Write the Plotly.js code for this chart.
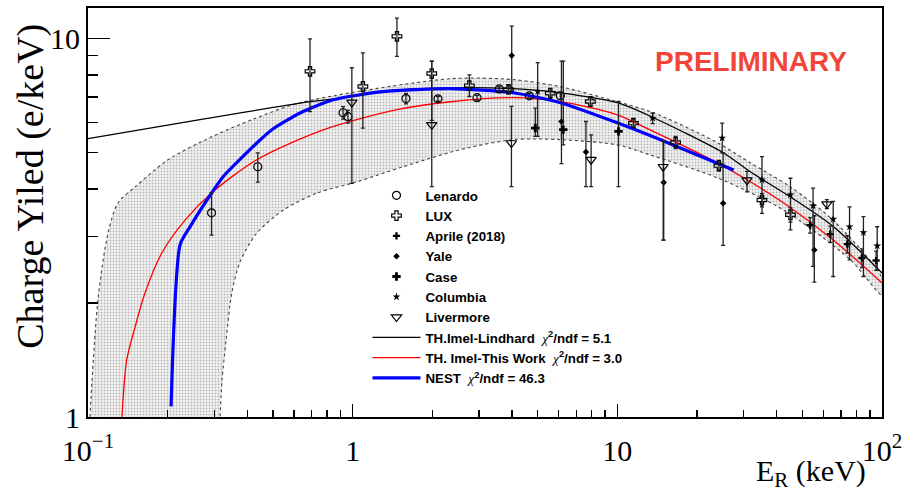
<!DOCTYPE html>
<html>
<head>
<meta charset="utf-8">
<script src="https://cdn.plot.ly/plotly-3.0.1.min.js"></script>
<style>html,body{margin:0;padding:0;background:#fff;}#plot{width:905px;height:491px;}</style>
</head>
<body>
<div id="plot"></div>
<script>
// ---- Data points (E_R in keV, charge yield in e/keV; hi/lo = error bar ends) ----
const lenardoX  = [0.293, 0.438, 0.92, 0.96, 1.59, 2.10, 2.95, 3.58, 4.65, 6.09];
const lenardoY  = [3.46, 4.58, 6.36, 6.21, 6.93, 6.92, 6.97, 7.35, 7.05, 7.05];
const lenardoHi = [3.91, 4.98, 6.60, 6.45, 7.15, 7.02, 7.07, 7.45, 7.15, 7.20];
const lenardoLo = [3.02, 4.17, 6.12, 5.97, 6.71, 6.82, 6.87, 7.25, 6.95, 6.90];

const luxX  = [0.69, 1.093, 1.47, 1.99, 2.76, 3.88, 5.58, 7.91, 11.5, 16.6, 24.2, 35.2, 45.1];
const luxY  = [8.18, 7.46, 10.12, 8.07, 7.50, 7.33, 7.16, 6.81, 5.97, 5.31, 4.61, 3.74, 3.42];
const luxHi = [9.97, 9.15, 11.3, 8.70, 8.01, 7.50, 7.36, 7.01, 6.12, 5.51, 4.76, 3.89, 3.57];
const luxLo = [6.40, 5.79, 8.96, 6.07, 7.02, 7.16, 6.96, 6.61, 5.82, 5.11, 4.46, 3.59, 3.27];

const aprileX  = [53.5, 63.8, 74.0, 84.0, 95.0];
const aprileY  = [3.21, 3.04, 2.86, 2.63, 2.59];
const aprileHi = [3.36, 3.19, 3.01, 2.78, 2.74];
const aprileLo = [3.06, 2.89, 2.71, 2.48, 2.44];

const yaleX  = [3.99, 6.15, 7.61, 14.97, 25.1, 55.5];
const yaleY  = [9.00, 6.03, 5.01, 4.16, 3.67, 2.76];
const yaleHi = [10.77, 8.70, 6.03, 5.36, 4.98, 3.40];
const yaleLo = [7.30, 4.67, 4.06, 2.93, 2.84, 2.27];

const caseX  = [4.90, 6.25, 10.1];
const caseY  = [5.79, 5.74, 5.68];
const caseHi = [6.54, 8.70, 6.81];
const caseLo = [5.51, 5.23, 4.06];

const columbiaX  = [5.0, 13.6, 24.9, 35.2, 45.1, 54.9, 65.4, 75.4, 85.1, 95.9];
const columbiaY  = [7.24, 6.16, 5.45, 4.23, 3.86, 3.61, 3.33, 3.18, 3.07, 2.83];
const columbiaHi = [8.63, 6.35, 5.97, 4.87, 4.27, 4.02, 3.71, 3.59, 3.38, 3.18];
const columbiaLo = [5.51, 5.95, 4.98, 3.45, 3.12, 2.50, 2.35, 2.60, 2.35, 2.44];

const livermoreX  = [0.993, 1.99, 3.98, 7.96, 14.9, 30.9, 61.9];
const livermoreY  = [6.77, 5.91, 5.29, 4.78, 4.58, 4.22, 3.65];
const livermoreHi = [8.36, 8.70, 6.61, 5.56, 5.36, 4.45, 3.75];
const livermoreLo = [4.14, 4.06, 4.06, 4.06, 2.93, 3.93, 3.55];

// ---- Model curves ----
const lindhardX = [0.1, 0.265, 0.69, 0.978, 1.4, 2.34, 4.04, 6.09, 10, 13.7, 25.2, 31.8, 45.1, 65.6, 100];
const lindhardY = [5.43, 6.10, 6.80, 7.01, 7.28, 7.40, 7.36, 7.18, 6.76, 6.17, 4.98, 4.44, 3.81, 3.18, 2.40];

const thisWorkX = [0.1344, 0.140, 0.1506, 0.1642, 0.190, 0.2326, 0.2936, 0.4345, 0.774, 1.47, 2.34, 4.04, 6.09, 10, 13.3, 23.9, 31.8, 42.4, 65.6, 100];
const thisWorkY = [1.0, 1.413, 1.727, 2.125, 2.71, 3.31, 3.91, 4.78, 5.73, 6.48, 6.80, 6.97, 6.80, 6.28, 5.73, 4.69, 4.18, 3.68, 2.93, 2.26];

const nestX = [0.206, 0.2228, 0.243, 0.2936, 0.324, 0.4345, 0.498, 0.633, 0.844, 1.30, 2.34, 4.04, 6.09, 10, 15.5, 27.5];
const nestY = [1.067, 2.85, 3.18, 3.91, 4.31, 5.29, 5.75, 6.35, 6.88, 7.23, 7.36, 7.18, 6.76, 5.98, 5.30, 4.49];

// ---- Uncertainty band ----
const bandUpX = [0.1017, 0.109, 0.119, 0.1299, 0.1506, 0.2007, 0.2943, 0.417, 0.633, 2.34, 4.04, 6.09, 10, 13.7, 23.9, 31.8, 45.1, 65.6, 100];
const bandUpY = [1.0, 2.035, 3.06, 3.68, 4.05, 4.78, 5.50, 6.10, 6.76, 7.82, 7.78, 7.45, 6.80, 6.36, 5.30, 4.69, 4.05, 3.30, 2.33];
const bandLoX = [0.3155, 0.321, 0.3325, 0.3494, 0.3756, 0.4344, 0.5476, 0.732, 1.037, 1.552, 2.55, 4.04, 6.09, 10, 13.3, 23.9, 42.4, 76.0, 100];
const bandLoY = [1.0, 1.25, 1.595, 2.125, 2.57, 3.06, 3.52, 3.90, 4.18, 4.58, 5.08, 5.40, 5.40, 5.23, 4.92, 4.28, 3.52, 2.60, 2.10];

// ---- Axis ticks ----
const xTickVals = [0.1, 1, 10, 100];
const xTickText = ['10<sup>\u22121</sup>', '1', '10', '10<sup>2</sup>'];
const xMinorVals = [0.2,0.3,0.4,0.5,0.6,0.7,0.8,0.9,2,3,4,5,6,7,8,9,20,30,40,50,60,70,80,90];
const yTickVals = [1, 10];
const yTickText = ['1', '10'];
const yMinorVals = [2,3,4,5,6,7,8,9];

const chi = '<span style="font-family:\'Liberation Serif\';font-weight:normal;font-style:italic">\u03c7</span><sup>2</sup>';

function errs(y, hi, lo) {
  return {type:'data', symmetric:false,
          array: y.map((v,i)=>hi[i]-v), arrayminus: y.map((v,i)=>v-lo[i]),
          color:'#222', thickness:1.3, width:2};
}
function pts(name, x, y, hi, lo, symbol, size, rank, lw) {
  return {x:x, y:y, type:'scatter', mode:'markers', name:name, legendrank:rank,
          marker:{symbol:symbol, size:size, color:'#000', line:{color:'#000', width:lw}},
          error_y: errs(y, hi, lo)};
}

const bandX = bandUpX.concat(bandLoX.slice().reverse());
const bandY = bandUpY.concat(bandLoY.slice().reverse());

const traces = [
  {x:bandX, y:bandY, type:'scatter', mode:'lines', fill:'toself', showlegend:false, hoverinfo:'skip',
   line:{color:'#444', width:1.1, dash:'dot', shape:'spline', smoothing:0.8},
   fillcolor:'#ededed',
   fillpattern:{shape:'.', bgcolor:'#f3f3f3', fgcolor:'#b8b8b8', size:3, solidity:0.3}},
  {x:lindhardX, y:lindhardY, type:'scatter', mode:'lines', legendrank:8,
   name:'TH.Imel-Lindhard  '+chi+'/ndf = 5.1',
   line:{color:'#000', width:1.3, shape:'spline', smoothing:0.8}},
  {x:thisWorkX, y:thisWorkY, type:'scatter', mode:'lines', legendrank:9,
   name:'TH. Imel-This Work  '+chi+'/ndf = 3.0',
   line:{color:'#ff0000', width:1.3, shape:'spline', smoothing:0.8}},
  {x:nestX, y:nestY, type:'scatter', mode:'lines', legendrank:10,
   name:'NEST  '+chi+'/ndf = 46.3',
   line:{color:'#0000ff', width:3.2, shape:'spline', smoothing:0.6}},
  pts('Lenardo', lenardoX, lenardoY, lenardoHi, lenardoLo, 'circle-open', 8, 1, 1.2),
  pts('LUX', luxX, luxY, luxHi, luxLo, 'cross-open', 8, 2, 1.2),
  pts('Aprile (2018)', aprileX, aprileY, aprileHi, aprileLo, 'cross', 6, 3, 0),
  pts('Yale', yaleX, yaleY, yaleHi, yaleLo, 'diamond', 5, 4, 0),
  pts('Case', caseX, caseY, caseHi, caseLo, 'cross', 7, 5, 0),
  pts('Columbia', columbiaX, columbiaY, columbiaHi, columbiaLo, 'star', 6, 6, 0),
  pts('Livermore', livermoreX, livermoreY, livermoreHi, livermoreLo, 'triangle-down-open', 9, 7, 1.2)
];

const serif = 'Liberation Serif, Times New Roman, serif';
const layout = {
  width:905, height:491,
  margin:{l:88, r:23, t:8, b:74},
  paper_bgcolor:'#fff', plot_bgcolor:'#fff',
  showlegend:true,
  legend:{x:0.352, y:0.579, xanchor:'left', yanchor:'top', bgcolor:'rgba(0,0,0,0)',
          font:{family:'Liberation Sans, Arial, sans-serif', size:13.3, color:'#000', weight:'bold'},
          itemwidth:48, tracegroupgap:0},
  xaxis:{type:'log', range:[-1, 2], tickmode:'array', tickvals:xTickVals, ticktext:xTickText,
         ticks:'inside', ticklen:13, tickwidth:1.5, tickcolor:'#000', ticklabelstandoff:6,
         minor:{tickmode:'array', tickvals:xMinorVals, ticks:'inside', ticklen:7, tickwidth:1.5, tickcolor:'#000', showgrid:false},
         showline:true, linecolor:'#000', linewidth:2, mirror:true, showgrid:false, zeroline:false,
         tickfont:{family:serif, size:30, color:'#000'}},
  yaxis:{type:'log', range:[0, 1.08], tickmode:'array', tickvals:yTickVals, ticktext:yTickText,
         ticks:'inside', ticklen:22, tickwidth:1.5, tickcolor:'#000',
         minor:{tickmode:'array', tickvals:yMinorVals, ticks:'inside', ticklen:10, tickwidth:1.5, tickcolor:'#000', showgrid:false},
         showline:true, linecolor:'#000', linewidth:2, mirror:true, showgrid:false, zeroline:false,
         tickfont:{family:serif, size:30, color:'#000'}},
  annotations:[
    {text:'Charge Yiled (e/keV)', xref:'paper', yref:'paper', x:-0.072, y:0.565, xanchor:'center', yanchor:'middle',
     textangle:-90, showarrow:false, font:{family:serif, size:38, color:'#000'}},
    {text:'E<sub>R</sub> (keV)', xref:'paper', yref:'paper', x:0.982, y:-0.137, xanchor:'right', yanchor:'middle',
     showarrow:false, font:{family:serif, size:30, color:'#000'}},
    {text:'PRELIMINARY', xref:'paper', yref:'paper', x:0.835, y:0.869, xanchor:'center', yanchor:'middle',
     showarrow:false, font:{family:'Liberation Sans, Arial, sans-serif', size:28, color:'#f2453a', weight:'bold'}}
  ]
};

Plotly.newPlot('plot', traces, layout, {staticPlot:true, displayModeBar:false});
</script>
</body>
</html>
